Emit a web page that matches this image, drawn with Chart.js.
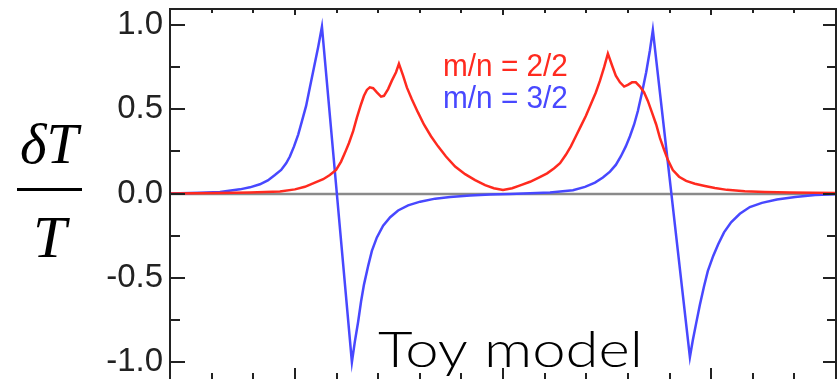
<!DOCTYPE html>
<html>
<head>
<meta charset="utf-8">
<script src="https://cdn.jsdelivr.net/npm/chart.js@4"></script>
<style>
  html, body { margin: 0; padding: 0; background: #fff; overflow: hidden; }
  #wrap { width: 837px; height: 379px; }
</style>
</head>
<body>
<div id="wrap"><canvas id="toyChart"></canvas></div>
<script>
// m/n = 3/2 curve (blue), x in tick units 0..16
const blueX = [0, 0.72, 1.20, 1.68, 1.92, 2.16, 2.35, 2.52, 2.67, 2.79, 2.88, 2.98, 3.08, 3.17, 3.27, 3.36, 3.46, 3.56, 3.65,
  4.37, 4.44, 4.52, 4.59, 4.66, 4.76, 4.85, 4.97, 5.12, 5.29, 5.48, 5.72, 6.01, 6.37, 6.73, 7.21, 7.69, 8.17, 8.65, 9.13,
  9.68, 9.97, 10.21, 10.40, 10.57, 10.71, 10.83, 10.95, 11.05, 11.15, 11.24, 11.34, 11.44, 11.53, 11.60,
  12.49, 12.56, 12.64, 12.73, 12.83, 12.92, 13.05, 13.17, 13.31, 13.48, 13.69, 13.93, 14.22, 14.58, 15.02, 15.50, 16.00];
const blueY = [0, 0.005, 0.01, 0.025, 0.037, 0.055, 0.078, 0.11, 0.14, 0.18, 0.22, 0.28, 0.35, 0.43, 0.52, 0.63, 0.75, 0.87, 0.99,
  -1.0, -0.88, -0.76, -0.64, -0.54, -0.43, -0.34, -0.26, -0.19, -0.14, -0.10, -0.07, -0.048, -0.03, -0.02, -0.012, -0.006, -0.002, 0.002, 0.006,
  0.02, 0.04, 0.065, 0.095, 0.13, 0.17, 0.22, 0.28, 0.34, 0.41, 0.49, 0.60, 0.72, 0.85, 0.97,
  -0.97, -0.87, -0.77, -0.66, -0.55, -0.46, -0.37, -0.30, -0.23, -0.17, -0.12, -0.08, -0.055, -0.035, -0.02, -0.009, -0.004];

// m/n = 2/2 curve (red)
const redX = [0, 1.20, 1.92, 2.64, 3.00, 3.24, 3.48, 3.68, 3.84, 3.99, 4.11, 4.20, 4.30, 4.40, 4.49, 4.59, 4.66, 4.73, 4.80,
  4.88, 4.97, 5.07, 5.14, 5.24, 5.33, 5.43, 5.50, 5.60, 5.69, 5.81, 5.96, 6.10, 6.27, 6.44, 6.63, 6.85, 7.09, 7.33, 7.57, 7.78, 8.00,
  8.22, 8.43, 8.65, 8.86, 9.06, 9.23, 9.37, 9.51, 9.63, 9.75, 9.87, 9.99, 10.11, 10.23, 10.33, 10.43, 10.52,
  10.62, 10.71, 10.81, 10.91, 11.00, 11.10, 11.19, 11.29, 11.39, 11.48, 11.58, 11.68, 11.77, 11.87, 11.96,
  12.08, 12.23, 12.40, 12.61, 12.85, 13.09, 13.38, 13.81, 14.29, 14.89, 16.00];
const redY = [0, 0.003, 0.006, 0.012, 0.025, 0.04, 0.065, 0.085, 0.11, 0.14, 0.19, 0.24, 0.30, 0.37, 0.45, 0.53, 0.58, 0.615, 0.63,
  0.625, 0.60, 0.575, 0.58, 0.62, 0.67, 0.72, 0.77, 0.70, 0.63, 0.56, 0.48, 0.41, 0.34, 0.28, 0.22, 0.16, 0.115, 0.08, 0.05, 0.032, 0.022,
  0.032, 0.05, 0.07, 0.095, 0.12, 0.15, 0.18, 0.23, 0.28, 0.34, 0.40, 0.46, 0.53, 0.60, 0.67, 0.75, 0.83,
  0.76, 0.70, 0.66, 0.635, 0.645, 0.66, 0.66, 0.635, 0.60, 0.55, 0.48, 0.41, 0.33, 0.26, 0.20,
  0.14, 0.10, 0.075, 0.058, 0.045, 0.033, 0.022, 0.014, 0.01, 0.006, 0.003];

const yTicks = [-1.0, -0.5, 0.0, 0.5, 1.0];
const yMinorTicks = [-1.0, -0.75, -0.5, -0.25, 0.0, 0.25, 0.5, 0.75, 1.0];
const xTicks = [1, 2, 3, 4, 5, 6, 7, 8, 9, 10, 11, 12, 13, 14, 15];
const xMajorTicks = [3, 8, 13];

const labels = ['m/n = 2/2', 'm/n = 3/2'];
const colors = ['#ff2a1f', '#4848ff'];

const pts = (xs, ys) => xs.map((x, i) => ({ x: x, y: ys[i] }));

const framePlugin = {
  id: 'frame',
  beforeDatasetsDraw(chart) {
    const { ctx, chartArea: a, scales: { y } } = chart;
    // zero line
    ctx.save();
    ctx.strokeStyle = '#8a8a8a';
    ctx.lineWidth = 2.5;
    ctx.beginPath();
    ctx.moveTo(a.left, y.getPixelForValue(0) + 0.5);
    ctx.lineTo(a.right, y.getPixelForValue(0) + 0.5);
    ctx.stroke();
    ctx.restore();
  },
  afterDatasetsDraw(chart) {
    const { ctx, chartArea: a, scales: { x, y } } = chart;
    ctx.save();
    ctx.strokeStyle = '#222';
    ctx.lineWidth = 2;
    ctx.beginPath();
    ctx.moveTo(a.left, a.bottom + 1);
    ctx.lineTo(a.left, a.top);
    ctx.lineTo(a.right, a.top);
    ctx.lineTo(a.right, a.bottom + 1);
    ctx.stroke();

    // y ticks left and right
    yMinorTicks.forEach(v => {
      const py = Math.round(y.getPixelForValue(v));
      const major = Math.abs(v * 2 - Math.round(v * 2)) < 1e-6;
      ctx.beginPath();
      ctx.moveTo(a.left, py);
      ctx.lineTo(a.left + (major ? 15 : 10), py);
      ctx.moveTo(a.right, py);
      ctx.lineTo(a.right - (major ? 13 : 9), py);
      ctx.stroke();
    });
    // x ticks top and bottom
    xTicks.forEach(v => {
      const px = Math.round(x.getPixelForValue(v));
      const major = xMajorTicks.includes(v);
      ctx.beginPath();
      ctx.moveTo(px, a.top);
      ctx.lineTo(px, a.top + (major ? 6 : 4));
      ctx.moveTo(px, a.bottom + 1);
      ctx.lineTo(px, a.bottom + 1 - (major ? 12 : 7));
      ctx.stroke();
    });

    // legend text
    ctx.textBaseline = 'alphabetic';
    ctx.font = '32px "Liberation Sans", Arial, sans-serif';
    labels.forEach((t, i) => {
      ctx.save();
      ctx.translate(443, 76 + i * 32);
      ctx.scale(0.93, 1);
      ctx.fillStyle = colors[i];
      ctx.fillText(t, 0, 0);
      ctx.restore();
    });

    // dT/T label
    ctx.fillStyle = '#000';
    ctx.font = 'italic 57px "Liberation Serif", "Times New Roman", serif';
    ctx.fillText('\u03B4T', 20, 163);
    ctx.fillRect(17, 188, 65, 3);
    ctx.font = 'italic 60px "Liberation Serif", "Times New Roman", serif';
    ctx.fillText('T', 33, 257);

    // Toy model
    ctx.font = '300 50px Lato, "Noto Sans", sans-serif';
    const txt = 'Toy model';
    const w = ctx.measureText(txt).width;
    ctx.save();
    ctx.translate(378, 367);
    ctx.scale(265 / w, 1);
    ctx.fillText(txt, 0, 0);
    ctx.restore();
    ctx.restore();
  }
};

new Chart(document.getElementById('toyChart'), {
  type: 'scatter',
  data: {
    datasets: [
      { label: labels[0], data: pts(redX, redY), showLine: true, borderColor: colors[0], borderWidth: 2.5, pointRadius: 0, tension: 0 },
      { label: labels[1], data: pts(blueX, blueY), showLine: true, borderColor: colors[1], borderWidth: 2.5, pointRadius: 0, tension: 0 }
    ]
  },
  options: {
    responsive: true,
    maintainAspectRatio: false,
    animation: false,
    layout: { padding: { top: 9, right: 1, bottom: 0, left: 0 } },
    plugins: { legend: { display: false }, tooltip: { enabled: false } },
    scales: {
      x: { type: 'linear', min: 0, max: 16, display: false },
      y: {
        min: -1.1, max: 1.095,
        grid: { display: false, drawTicks: false },
        border: { display: false },
        afterFit: s => { s.width = 170; s.paddingTop = 0; s.paddingBottom = 0; },
        afterBuildTicks: s => { s.ticks = yTicks.map(v => ({ value: v })); },
        ticks: {
          padding: 7,
          color: '#222',
          font: { family: '"Liberation Sans", Arial, sans-serif', size: 33 },
          callback: v => v.toFixed(1)
        }
      }
    }
  },
  plugins: [framePlugin]
});
</script>
</body>
</html>
